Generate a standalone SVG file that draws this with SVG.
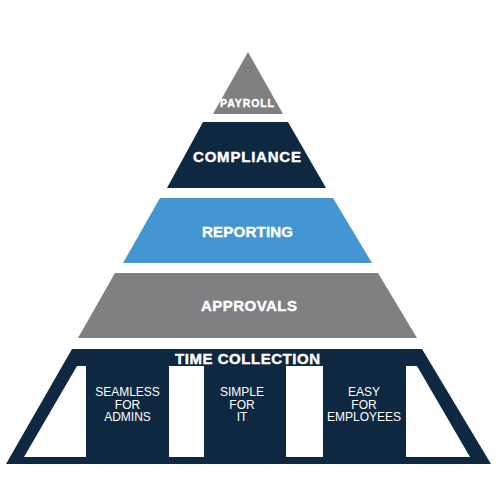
<svg xmlns="http://www.w3.org/2000/svg" width="500" height="500" viewBox="0 0 500 500">
<style>
.navy{fill:#0e2842}
.grey{fill:#808083}
.blue{fill:#4396d2}
.hole{fill:#ffffff}
.lbl{font-family:"Liberation Sans",Arial,sans-serif;font-weight:bold;fill:#ffffff;stroke:#ffffff;stroke-width:0.4;text-anchor:middle}
.sub{font-family:"Liberation Sans",Arial,sans-serif;fill:#ffffff;text-anchor:middle;font-size:12px}
</style>
<rect width="500" height="500" fill="#ffffff"/>
<g id="payroll">
<polygon class="grey" points="248,52 283,114 213,114"/>
<text class="lbl" x="247" y="107" font-size="10.5" textLength="54" lengthAdjust="spacing">PAYROLL</text>
</g>
<g id="compliance">
<polygon class="navy" points="203,122 288,122 326,188 167,188"/>
<text class="lbl" x="247" y="162" font-size="15" textLength="108" lengthAdjust="spacing">COMPLIANCE</text>
</g>
<g id="reporting">
<polygon class="blue" points="160,198 333,198 372,263 123,263"/>
<text class="lbl" x="247.5" y="237" font-size="15" textLength="91" lengthAdjust="spacing">REPORTING</text>
</g>
<g id="approvals">
<polygon class="grey" points="115,273 378,273 417,338 78,338"/>
<text class="lbl" x="249" y="311" font-size="15" textLength="96" lengthAdjust="spacing">APPROVALS</text>
</g>
<g id="time-collection">
<polygon class="navy" points="72,349 422,349 491,464 6,464"/>
<polygon class="hole" points="77,366 86,366 86,457 24,457"/>
<rect class="hole" x="169" y="366" width="35" height="91"/>
<rect class="hole" x="286" y="366" width="37" height="91"/>
<polygon class="hole" points="406,366 417,366 470,457 406,457"/>
<text class="lbl" x="247.5" y="364" font-size="15" textLength="145" lengthAdjust="spacing">TIME COLLECTION</text>
</g>
<g id="seamless">
<text class="sub" x="127.5" y="396">SEAMLESS</text>
<text class="sub" x="127.5" y="408.5">FOR</text>
<text class="sub" x="127.5" y="421">ADMINS</text>
</g>
<g id="simple">
<text class="sub" x="242" y="396">SIMPLE</text>
<text class="sub" x="242" y="408.5">FOR</text>
<text class="sub" x="242" y="421">IT</text>
</g>
<g id="easy">
<text class="sub" x="364" y="396">EASY</text>
<text class="sub" x="364" y="408.5">FOR</text>
<text class="sub" x="364" y="421">EMPLOYEES</text>
</g>
<g id="connectors"></g>
</svg>
